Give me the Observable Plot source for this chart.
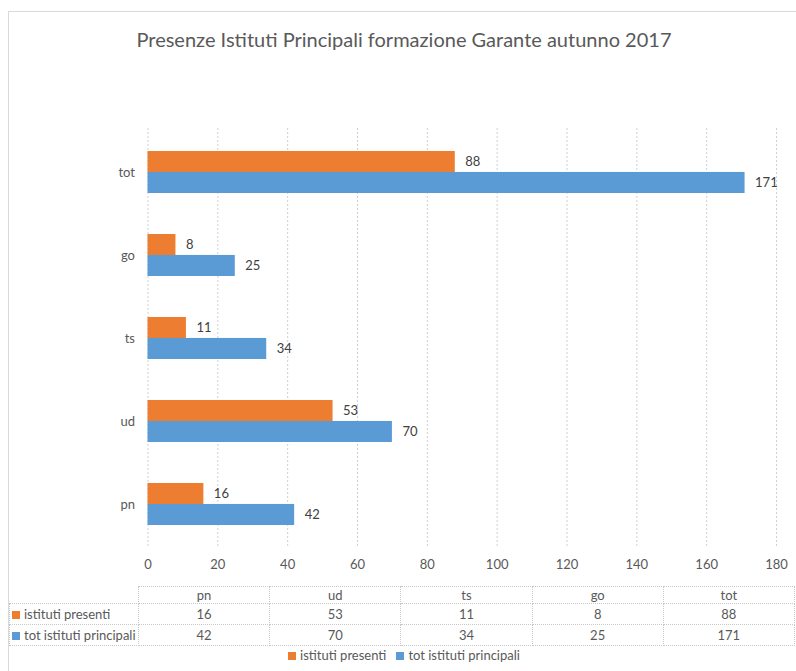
<!DOCTYPE html>
<html>
<head>
<meta charset="utf-8">
<script src="https://cdn.jsdelivr.net/npm/d3@7"></script>
<script src="https://cdn.jsdelivr.net/npm/@observablehq/plot@0.6"></script>
<style>
  html, body { margin: 0; padding: 0; background: #fff; }
  body { width: 796px; height: 671px; position: relative; overflow: hidden; font-family: Lato, "Open Sans", sans-serif; color: #595959; }
  #card { position: absolute; left: 8px; top: 11px; width: 820px; height: 700px; border-top: 1px solid #d9d9d9; border-left: 1px solid #d9d9d9; box-sizing: border-box; }
  #title { position: absolute; left: 0; top: 27px; width: 808px; text-align: center; font-size: 20px; color: #595959; }
  #chart { position: absolute; left: 0; top: 0; }
  #tbl { position: absolute; left: 9px; top: 586px; border-collapse: collapse; font-size: 13px; color: #595959; table-layout: fixed; }
  #tbl td { border: 1px dotted #c8c8c8; text-align: center; padding: 0; white-space: nowrap; line-height: 15px; }
  #tbl tr.hdr td { height: 16px; }
  #tbl tr.row td { height: 20px; }
  #tbl td.lab { text-align: left; padding-left: 2px; }
  #tbl td.blank { border-top: none; border-left: none; }
  .sw { display: inline-block; width: 8px; height: 8px; margin-right: 4px; vertical-align: 0px; }
  #legend { position: absolute; left: 0; top: 647px; width: 808px; text-align: center; font-size: 13px; color: #595959; }
  #legend span.item { margin: 0 5px; }
</style>
</head>
<body>
<div id="card"></div>
<div id="chart"></div>
<div id="title"></div>
<table id="tbl"></table>
<div id="legend"></div>
<script>
const titleText = "Presenze Istituti Principali formazione Garante autunno 2017";
const categories = ["pn", "ud", "ts", "go", "tot"];
const presenti = [16, 53, 11, 8, 88];
const totali = [42, 70, 34, 25, 171];
const seriesNames = ["istituti presenti", "tot istituti principali"];
const seriesColors = ["#ED7D31", "#5B9BD5"];
const xTicks = [0, 20, 40, 60, 80, 100, 120, 140, 160, 180];

const rows = categories.map((c, i) => ({cat: c, presenti: presenti[i], totali: totali[i]}));

const height = 575, marginTop = 128, marginBottom = 28;
const step = (height - marginTop - marginBottom) / categories.length;
const half = step * 0.5 / 2;

const chart = Plot.plot({
  width: 796,
  height,
  marginTop,
  marginBottom,
  marginLeft: 147.5,
  marginRight: 20,
  style: {fontFamily: "Lato, 'Open Sans', sans-serif", fontSize: "13px", color: "#595959", background: "transparent"},
  x: {domain: [0, 180], ticks: xTicks, tickSize: 0, tickPadding: 12, label: null},
  y: {domain: categories.slice().reverse(), paddingInner: 0.5, paddingOuter: 0.25, tickSize: 0, tickPadding: 13, label: null},
  marks: [
    Plot.ruleX(xTicks, {stroke: "#d0d0d0", strokeDasharray: "2,2"}),
    Plot.barX(rows, {x: "presenti", y: "cat", fill: seriesColors[0], insetBottom: half}),
    Plot.barX(rows, {x: "totali", y: "cat", fill: seriesColors[1], insetTop: half}),
    Plot.text(rows, {x: "presenti", y: "cat", text: d => String(d.presenti), dx: 10, dy: -half / 2, textAnchor: "start", fill: "#404040", fontSize: 13}),
    Plot.text(rows, {x: "totali", y: "cat", text: d => String(d.totali), dx: 10, dy: half / 2, textAnchor: "start", fill: "#404040", fontSize: 13})
  ]
});
document.getElementById("chart").appendChild(chart);
document.getElementById("title").textContent = titleText;

// data table
const tbl = document.getElementById("tbl");
const colW = [129].concat(categories.map(() => 131.2));
const cg = document.createElement("colgroup");
colW.forEach(w => { const col = document.createElement("col"); col.style.width = w + "px"; cg.appendChild(col); });
tbl.appendChild(cg);
const hr = document.createElement("tr"); hr.className = "hdr";
const blank = document.createElement("td"); blank.className = "blank"; hr.appendChild(blank);
categories.forEach(c => { const td = document.createElement("td"); td.textContent = c; hr.appendChild(td); });
tbl.appendChild(hr);
[presenti, totali].forEach((vals, s) => {
  const tr = document.createElement("tr"); tr.className = "row";
  const lab = document.createElement("td"); lab.className = "lab";
  const sw = document.createElement("span"); sw.className = "sw"; sw.style.background = seriesColors[s];
  lab.appendChild(sw); lab.appendChild(document.createTextNode(seriesNames[s]));
  tr.appendChild(lab);
  vals.forEach(v => { const td = document.createElement("td"); td.textContent = v; tr.appendChild(td); });
  tbl.appendChild(tr);
});

// legend
const lg = document.getElementById("legend");
seriesNames.forEach((n, s) => {
  const it = document.createElement("span"); it.className = "item";
  const sw = document.createElement("span"); sw.className = "sw"; sw.style.background = seriesColors[s];
  it.appendChild(sw); it.appendChild(document.createTextNode(n));
  lg.appendChild(it);
});
</script>
</body>
</html>
